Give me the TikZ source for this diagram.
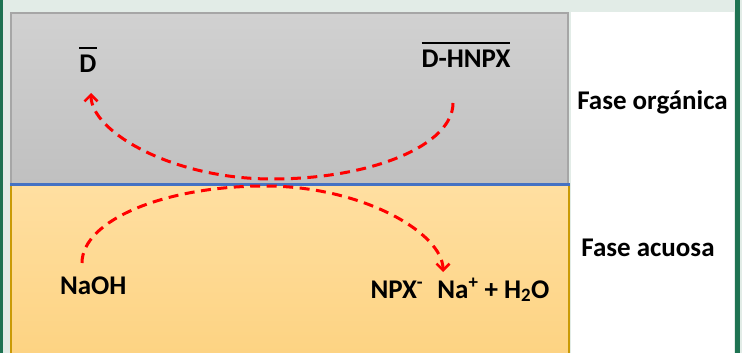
\documentclass[tikz,border=0pt]{standalone}
\usepackage{fontspec}
\setmainfont{Carlito}
\usetikzlibrary{arrows.meta}
\definecolor{bgmint}{HTML}{E2ECE7}
\definecolor{edgegreen}{HTML}{1E7352}
\definecolor{greytop}{HTML}{D1D1D1}
\definecolor{greybot}{HTML}{C0C0C0}
\definecolor{greyedge}{HTML}{A6A6A6}
\definecolor{orangetop}{HTML}{FFDFA1}
\definecolor{orangebot}{HTML}{FDD382}
\definecolor{orangeedge}{HTML}{C99A06}
\definecolor{ifaceblue}{HTML}{4472C4}
\definecolor{arrowred}{HTML}{FF0000}
\newcommand{\ovbar}[1]{\leavevmode\vbox{\hrule height 2.8pt\kern 6pt\hbox{#1}}}
\begin{document}
\begin{tikzpicture}[x=1pt,y=-1pt,
  lbl/.style={font=\fontsize{27}{32}\selectfont\bfseries, text=black, inner sep=0pt, anchor=base},
  flow/.style={draw=arrowred, line width=3pt, dash pattern=on 10pt off 6.5pt,
    -{Straight Barb[length=6.5pt,width=13pt,line width=2.6pt]}}]
\useasboundingbox (0,0) rectangle (742,353);
% background
\fill[bgmint] (0,0) rectangle (742,353);
\fill[white] (571,12.5) rectangle (733.5,353);
\fill[edgegreen] (0,0) rectangle (2.7,353);
\fill[edgegreen] (735.3,0) rectangle (740,353);
% phases
\shade[top color=greytop, bottom color=greybot] (11,13) rectangle (568,184);
\draw[greyedge, line width=1.5pt] (11,184) -- (11,13) -- (568,13) -- (568,184);
\shade[top color=orangetop, bottom color=orangebot] (11,185) rectangle (569,356);
\draw[orangeedge, line width=2pt] (11,356) -- (11,185) (569,185) -- (569,356);
\draw[ifaceblue, line width=3pt] (10,184) -- (569.5,184);
% labels
\node[lbl] (d) at (88,73) {\ovbar{D}};
\node[lbl] (dhnpx) at (466,68) {\ovbar{D-HNPX}};
\node[lbl] (org) at (652.5,109.3) {Fase orgánica};
\node[lbl] (acu) at (648,256.7) {Fase acuosa};
\node[lbl] (naoh) at (93.3,294.3) {NaOH};
\node[lbl] (prod) at (460,298) {NPX\textsuperscript{-}\hspace{0.3em} Na\textsuperscript{+} + H\textsubscript{2}O};
% connector end points
\coordinate (uS) at (453,103);
\coordinate (uM) at (272,179);
\coordinate (uE) at (91,93);
\coordinate (lS) at (82,263);
\coordinate (lM) at (265,186);
\coordinate (lE) at (443,272);
% arcs
\draw[flow] (uS) .. controls (453,145) and (372,179) .. (uM)
  .. controls (172,179) and (91,131.5) .. (uE);
\draw[flow] (lS) .. controls (82,220.5) and (164,186) .. (lM)
  .. controls (363,186) and (443,233.5) .. (lE);
\end{tikzpicture}
\end{document}
